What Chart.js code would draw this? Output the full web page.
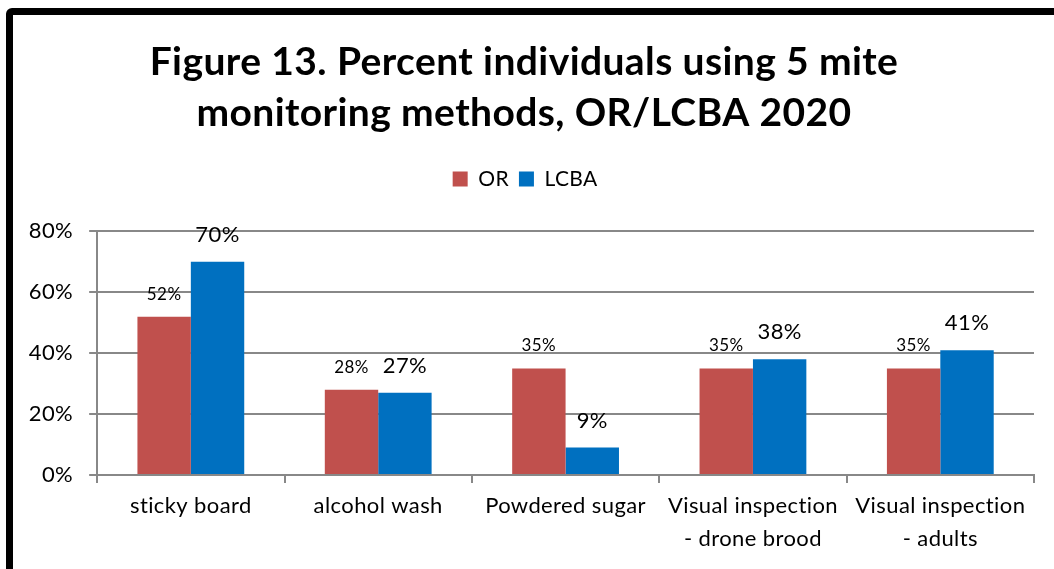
<!DOCTYPE html>
<html>
<head>
<meta charset="utf-8">
<script src="https://cdn.jsdelivr.net/npm/chart.js@4"></script>
<style>
  body { margin: 0; background: #fff; }
  #wrap { position: relative; width: 1054px; height: 569px; overflow: hidden; }
  #frame {
    position: absolute; left: 6px; top: 8px; width: 1100px; height: 700px;
    border: 7px solid #000; border-radius: 6px; box-sizing: border-box;
  }
  #box { position: absolute; left: 0; top: 0; width: 1054px; height: 569px; }
</style>
</head>
<body>
<div id="wrap">
  <div id="frame"></div>
  <div id="box"><canvas id="chart"></canvas></div>
</div>
<script>
// data
const categories = [
    'sticky board',
    'alcohol wash',
    'Powdered sugar',
    ['Visual inspection', '- drone brood'],
    ['Visual inspection', '- adults']
];
const orValues = [52, 28, 35, 35, 35];
const lcbaValues = [70, 27, 9, 38, 41];
const yTicks = [0, 20, 40, 60, 80];

const FONT = 'Lato, "Open Sans", sans-serif';

// a little letter spacing also stops Lato's "ti" ligature
const spacing = {
    id: 'spacing',
    beforeDraw(chart) {
        chart.ctx.letterSpacing = '0.4px';
    }
};

// draws the percent label over each bar
const barLabels = {
    id: 'barLabels',
    afterDatasetsDraw(chart) {
        const ctx = chart.ctx;
        ctx.save();
        ctx.textAlign = 'center';
        ctx.textBaseline = 'bottom';
        ctx.fillStyle = '#000';
        chart.data.datasets.forEach((ds, i) => {
            const meta = chart.getDatasetMeta(i);
            ctx.font = (i === 0 ? '17px ' : '22px ') + FONT;
            const gap = i === 0 ? 14 : 16;
            meta.data.forEach((bar, j) => {
                ctx.fillText(ds.data[j] + '%', bar.x, bar.y - gap);
            });
        });
        ctx.restore();
    }
};

// extra room under the legend
const legendGap = {
    id: 'legendGap',
    beforeInit(chart) {
        const fit = chart.legend.fit;
        chart.legend.fit = function () {
            fit.bind(chart.legend)();
            this.height += 32;
        };
    }
};

const ctx = document.getElementById('chart').getContext('2d');
new Chart(ctx, {
    type: 'bar',
    data: {
        labels: categories,
        datasets: [
            { label: 'OR', data: orValues, backgroundColor: '#C0504D' },
            { label: 'LCBA', data: lcbaValues, backgroundColor: '#0070C0' }
        ]
    },
    options: {
        responsive: true,
        maintainAspectRatio: false,
        animation: false,
        layout: { padding: { left: 14, right: 20, top: 37, bottom: 8 } },
        datasets: { bar: { categoryPercentage: 0.57, barPercentage: 1.0 } },
        plugins: {
            title: {
                display: true,
                text: ['Figure 13. Percent individuals using 5 mite', 'monitoring methods, OR/LCBA 2020'],
                color: '#000',
                font: { family: FONT, size: 39, weight: 'bold', lineHeight: 1.3 },
                padding: { top: 0, bottom: 20 }
            },
            legend: {
                position: 'top',
                labels: {
                    color: '#000',
                    font: { family: FONT, size: 21 },
                    boxWidth: 15,
                    boxHeight: 15,
                    padding: 10
                }
            },
            tooltip: { enabled: false }
        },
        scales: {
            x: {
                grid: { display: true, drawOnChartArea: false, offset: true, tickLength: 8, color: '#888', lineWidth: 2 },
                border: { display: true, color: '#888', width: 2 },
                ticks: {
                    color: '#000',
                    font: { family: FONT, size: 22, lineHeight: 1.5 },
                    maxRotation: 0, autoSkip: false, padding: 6
                }
            },
            y: {
                min: 0,
                max: 80,
                afterBuildTicks: axis => { axis.ticks = yTicks.map(v => ({ value: v })); },
                grid: { color: '#888', lineWidth: 2, tickLength: 8 },
                border: { display: true, color: '#888', width: 2 },
                ticks: {
                    color: '#000',
                    font: { family: FONT, size: 22 },
                    padding: 16,
                    callback: v => v + '%'
                }
            }
        }
    },
    plugins: [spacing, barLabels, legendGap]
});
</script>
</body>
</html>
